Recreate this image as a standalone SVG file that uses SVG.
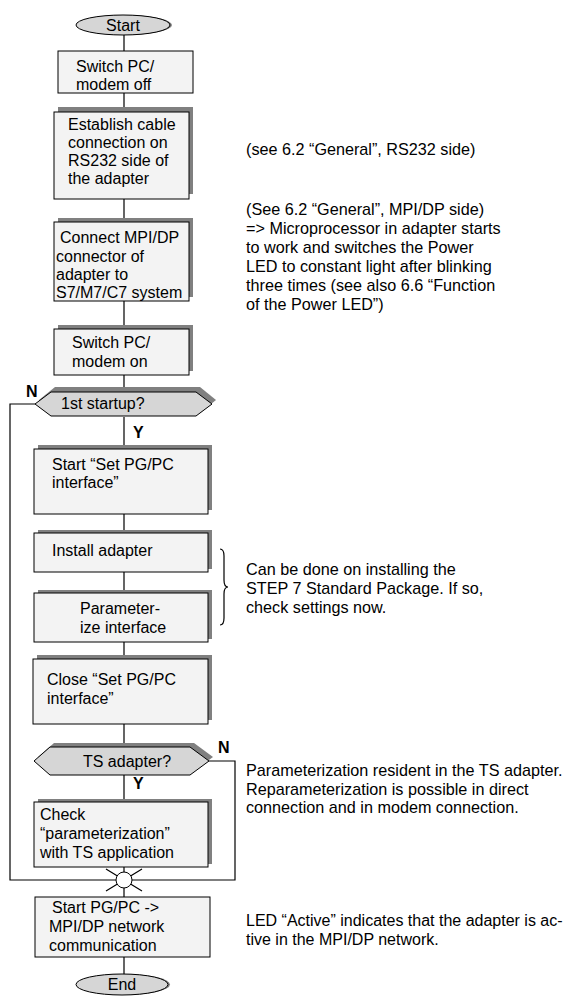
<svg xmlns="http://www.w3.org/2000/svg" width="566" height="1000" viewBox="0 0 566 1000">
<style>
text{font-family:"Liberation Sans",Arial,sans-serif;font-size:16px;fill:#000}
.b{font-weight:bold}
.n{font-size:16.2px}
.box{fill:#f3f3f3;stroke:#000;stroke-width:1}
.dec{fill:#d6d6d6;stroke:#000;stroke-width:1}
.sh{fill:#808080;stroke:none}
.ln{fill:none;stroke:#000;stroke-width:1.2}
</style>
<rect width="566" height="1000" fill="#fff"/>
<g id="connectors">
<path class="ln" d="M124,35V51M124,93V112M124,199V222M124,301V329M124,375V392M124,417V449M124,514V533M124,572V593M124,642V659M124,724V747M124,775V802M124,867V897M124,957V974"/>
<path class="ln" d="M35,404H10V880H235V761H209"/>
<path class="ln" d="M106,869L142,891M106,891L142,869"/>
<circle cx="124" cy="880" r="8" fill="#fff" stroke="#000" stroke-width="1"/>
<text class="b" x="26" y="397">N</text>
<text class="b" x="133" y="438">Y</text>
<text class="b" x="218" y="753">N</text>
<text class="b" x="133" y="789">Y</text>
</g>
<g id="start">
<ellipse class="sh" cx="125" cy="25" rx="47" ry="10"/>
<ellipse class="dec" cx="123" cy="25" rx="47" ry="10"/>
<text x="123" y="31" text-anchor="middle">Start</text>
</g>
<g id="switch-off">
<rect class="box" x="58" y="51" width="135" height="42"/>
<text x="76" y="72">Switch PC/</text>
<text x="76" y="90">modem off</text>
</g>
<g id="cable">
<rect class="sh" x="58" y="107" width="135" height="87"/>
<rect class="box" x="54" y="112" width="135" height="87"/>
<text x="68" y="130">Establish cable</text>
<text x="68" y="148">connection on</text>
<text x="68" y="166">RS232 side of</text>
<text x="68" y="184">the adapter</text>
</g>
<g id="connect">
<rect class="sh" x="58" y="218" width="135" height="79"/>
<rect class="box" x="54" y="222" width="135" height="79"/>
<text x="60" y="243">Connect MPI/DP</text>
<text x="56" y="262">connector of</text>
<text x="56" y="280">adapter to</text>
<text x="56" y="298">S7/M7/C7 system</text>
</g>
<g id="switch-on">
<rect class="sh" x="58" y="325" width="135" height="46"/>
<rect class="box" x="54" y="329" width="135" height="46"/>
<text x="72" y="348">Switch PC/</text>
<text x="72" y="367">modem on</text>
</g>
<g id="first-startup">
<polygon class="sh" points="39,400 55,387 200,387 216,400 200,413 55,413"/>
<polygon class="dec" points="35,404 51,392 196,392 212,404 196,416 51,416"/>
<text x="61" y="409">1st startup?</text>
</g>
<g id="start-setpg">
<rect class="sh" x="38" y="445" width="174" height="65"/>
<rect class="box" x="34" y="449" width="174" height="65"/>
<text x="52" y="470">Start “Set PG/PC</text>
<text x="52" y="488">interface”</text>
</g>
<g id="install">
<rect class="sh" x="38" y="530" width="174" height="39"/>
<rect class="box" x="34" y="533" width="174" height="39"/>
<text x="52" y="556">Install adapter</text>
</g>
<g id="param">
<rect class="sh" x="38" y="590" width="174" height="49"/>
<rect class="box" x="34" y="593" width="174" height="49"/>
<text x="80" y="614">Parameter-</text>
<text x="80" y="633">ize interface</text>
</g>
<g id="close-setpg">
<rect class="sh" x="37" y="655" width="175" height="65"/>
<rect class="box" x="33" y="659" width="175" height="65"/>
<text x="47" y="685">Close “Set PG/PC</text>
<text x="47" y="704">interface”</text>
</g>
<g id="ts-adapter">
<polygon class="sh" points="38,757 54,743 194,743 213,757 194,771 54,771"/>
<polygon class="dec" points="34,761 50,747 190,747 209,761 190,775 50,775"/>
<text x="127" y="767" text-anchor="middle">TS adapter?</text>
</g>
<g id="check">
<rect class="sh" x="38" y="799" width="174" height="65"/>
<rect class="box" x="34" y="802" width="174" height="65"/>
<text x="40" y="820">Check</text>
<text x="40" y="839">“parameterization”</text>
<text x="40" y="858">with TS application</text>
</g>
<g id="start-comm">
<rect class="box" x="35" y="897" width="175" height="60"/>
<text x="52" y="913">Start PG/PC -&gt;</text>
<text x="49" y="932">MPI/DP network</text>
<text x="49" y="951">communication</text>
</g>
<g id="end">
<ellipse class="sh" cx="124" cy="984.5" rx="46" ry="10.5"/>
<ellipse class="dec" cx="122" cy="984.5" rx="46" ry="10.5"/>
<text x="122" y="990" text-anchor="middle">End</text>
</g>
<g id="notes">
<text class="n" x="246" y="155">(see 6.2 “General”, RS232 side)</text>
<text class="n" x="246" y="215">(See 6.2 “General”, MPI/DP side)</text>
<text class="n" x="246" y="234">=&gt; Microprocessor in adapter starts</text>
<text class="n" x="246" y="253">to work and switches the Power</text>
<text class="n" x="246" y="272">LED to constant light after blinking</text>
<text class="n" x="246" y="291">three times (see also 6.6 “Function</text>
<text class="n" x="246" y="310">of the Power LED”)</text>
<path class="ln" stroke-width="1.5" d="M220,549Q224,549 224,556V580Q224,587 228,587Q224,587 224,594V618Q224,625 220,625"/>
<text class="n" x="246" y="575">Can be done on installing the</text>
<text class="n" x="246" y="594">STEP 7 Standard Package. If so,</text>
<text class="n" x="246" y="613">check settings now.</text>
<text class="n" x="246" y="776">Parameterization resident in the TS adapter.</text>
<text class="n" x="246" y="795">Reparameterization is possible in direct</text>
<text class="n" x="246" y="813">connection and in modem connection.</text>
<text x="246" y="926">LED “Active” indicates that the adapter is ac-</text>
<text x="246" y="945">tive in the MPI/DP network.</text>
</g>
</svg>
